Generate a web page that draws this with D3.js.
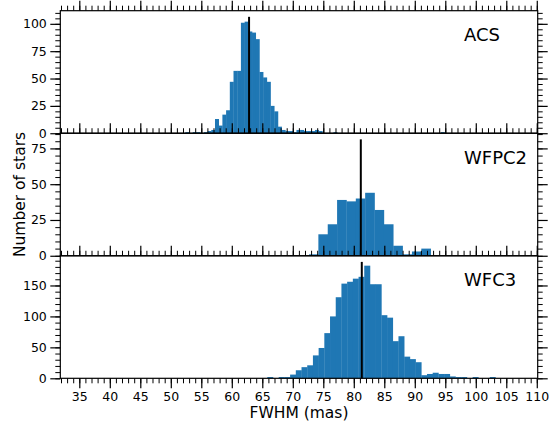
<!DOCTYPE html>
<html>
<head>
<meta charset="utf-8">
<script src="https://cdn.jsdelivr.net/npm/d3@7/dist/d3.min.js"></script>
<style>
  html, body { margin: 0; padding: 0; background: #fff; }
  svg { display: block; font-family: "DejaVu Sans", sans-serif; }
</style>
</head>
<body>
<svg id="chart" width="550" height="424"></svg>
<script>
// ---------------- data ----------------
const panelNames = ["ACS", "WFPC2", "WFC3"];

// ACS histogram (equal-width bins)
const acsBinStart = 52.39;
const acsBinWidth = 0.607;
const acsCounts = [1,0,1,1,0,1,2,3,13,7,17,21,47,57,57,101,102,93,92,86,56,51,47,25,20,6,3,2,2,1,3,3,2,2,2,3,2,0,0,0,1,
  0,0,0,0,0,0,0,0,0,0,0,0,0,0,0,0,0,0,0,0,0,0,0,0,0,0,0,0,1];
const acsMedian = 62.83;

// WFPC2 histogram
const wfpc2BinStart = 72.66;
const wfpc2BinWidth = 1.534;
const wfpc2Counts = [1,15,22,39,38,40,44,32,22,7,1,3,5];
const wfpc2Median = 81.15;

// WFC3 histogram
const wfc3BinStart = 65.82;
const wfc3BinWidth = 0.935;
const wfc3Counts = [2,0,2,2,6,13,18,21,37,49,73,100,131,153,156,161,164,182,152,152,102,98,60,68,35,31,26,5,7,9,7,7,3,2,2,0,2,0,0,2];
const wfc3Median = 81.31;

// axis ranges and ticks
const xDomain = [31.885, 110.15];
const xMajorTicks = [35,40,45,50,55,60,65,70,75,80,85,90,95,100,105,110];
const xMinorTicks = d3.range(32, 111, 1);
const yDomains = [[0, 112], [0, 85.6], [0, 198]];
const yMajorTicks = [[0,25,50,75,100], [0,25,50,75], [0,50,100,150]];
const yMinorTicks = [d3.range(0, 112, 5), d3.range(0, 86, 5), d3.range(0, 198, 10)];

// ---------------- layout ----------------
const svg = d3.select("#chart");
const mLeft = 60.3, mRight = 537.7, mTop = 10.7, mBottom = 378.3;
const ph = (mBottom - mTop) / 3;
const barColor = "#1f77b4";

const x = d3.scaleLinear().domain(xDomain).range([mLeft, mRight]);

const panels = [
  {name: panelNames[0], start: acsBinStart, width: acsBinWidth, counts: acsCounts, median: acsMedian},
  {name: panelNames[1], start: wfpc2BinStart, width: wfpc2BinWidth, counts: wfpc2Counts, median: wfpc2Median},
  {name: panelNames[2], start: wfc3BinStart, width: wfc3BinWidth, counts: wfc3Counts, median: wfc3Median}
];

function styleTicks(g, sw) {
  g.select(".domain").remove();
  g.selectAll(".tick line").attr("stroke", "#000").attr("stroke-width", sw);
}

panels.forEach((p, i) => {
  const y0 = mTop + i * ph, y1 = y0 + ph;
  const y = d3.scaleLinear().domain(yDomains[i]).range([y1, y0]);
  const g = svg.append("g");

  const bins = p.counts.map((c, k) => ({x0: p.start + k * p.width, x1: p.start + (k + 1) * p.width, c}));
  g.selectAll("rect.bar").data(bins.filter(b => b.c > 0)).enter().append("rect")
    .attr("x", d => x(d.x0))
    .attr("width", d => x(d.x1) - x(d.x0) + 0.3)
    .attr("y", d => y(d.c))
    .attr("height", d => y(0) - y(d.c))
    .attr("fill", barColor);

  // median line, 95% of axes height
  g.append("line")
    .attr("x1", x(p.median)).attr("x2", x(p.median))
    .attr("y1", y1).attr("y2", y1 - 0.95 * ph)
    .attr("stroke", "#000").attr("stroke-width", 2);

  // top x ticks (outward)
  g.append("g").attr("transform", `translate(0,${y0})`)
    .call(d3.axisTop(x).tickValues(xMinorTicks).tickSize(5).tickFormat(""))
    .call(s => styleTicks(s, 1));
  g.append("g").attr("transform", `translate(0,${y0})`)
    .call(d3.axisTop(x).tickValues(xMajorTicks).tickSize(10).tickFormat(""))
    .call(s => styleTicks(s, 1.2));

  // left y ticks
  g.append("g").attr("transform", `translate(${mLeft},0)`)
    .call(d3.axisLeft(y).tickValues(yMinorTicks[i]).tickSize(5).tickFormat(""))
    .call(s => styleTicks(s, 1));
  const yl = g.append("g").attr("transform", `translate(${mLeft},0)`)
    .call(d3.axisLeft(y).tickValues(yMajorTicks[i]).tickSize(10).tickPadding(3.5))
    .call(s => styleTicks(s, 1.2));
  yl.selectAll("text").attr("font-size", "12.5px").attr("fill", "#000").attr("font-family", "DejaVu Sans");

  // right y ticks
  g.append("g").attr("transform", `translate(${mRight},0)`)
    .call(d3.axisRight(y).tickValues(yMinorTicks[i]).tickSize(5).tickFormat(""))
    .call(s => styleTicks(s, 1));
  g.append("g").attr("transform", `translate(${mRight},0)`)
    .call(d3.axisRight(y).tickValues(yMajorTicks[i]).tickSize(10).tickFormat(""))
    .call(s => styleTicks(s, 1.2));

  // bottom axis for last panel
  if (i === 2) {
    g.append("g").attr("transform", `translate(0,${y1})`)
      .call(d3.axisBottom(x).tickValues(xMinorTicks).tickSize(5).tickFormat(""))
      .call(s => styleTicks(s, 1));
    const xb = g.append("g").attr("transform", `translate(0,${y1})`)
      .call(d3.axisBottom(x).tickValues(xMajorTicks).tickSize(10).tickPadding(3.5).tickFormat(d3.format("d")))
      .call(s => styleTicks(s, 1.2));
    xb.selectAll("text").attr("font-size", "12.5px").attr("fill", "#000").attr("font-family", "DejaVu Sans");
  }

  // frame
  g.append("rect").attr("x", mLeft).attr("y", y0).attr("width", mRight - mLeft).attr("height", ph)
    .attr("fill", "none").attr("stroke", "#000").attr("stroke-width", 1.2);

  // panel label
  g.append("text").attr("x", 464).attr("y", y0 + 30.5)
    .attr("font-size", "18px").attr("fill", "#000").text(p.name);
});

// axis titles
svg.append("text")
  .attr("transform", `translate(25,${(mTop + mBottom) / 2}) rotate(-90)`)
  .attr("text-anchor", "middle").attr("font-size", "15.5px").attr("fill", "#000")
  .text("Number of stars");
svg.append("text")
  .attr("x", (mLeft + mRight) / 2).attr("y", 418)
  .attr("text-anchor", "middle").attr("font-size", "15.5px").attr("fill", "#000")
  .text("FWHM (mas)");
</script>
</body>
</html>
